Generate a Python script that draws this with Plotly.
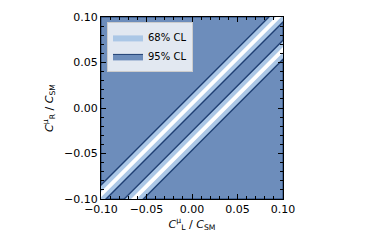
import plotly.graph_objects as go

# Data
axis_range = [-0.1, 0.1]
tick_vals = [-0.10, -0.05, 0.00, 0.05, 0.10]
tick_text = ["−0.10", "−0.05", "0.00", "0.05", "0.10"]
band_offsets = [0.005, -0.036]        # C_R - C_L at the band centres
band_halfwidth_95 = 0.0105            # half width (in C_R - C_L) of 95% boundary
band_halfwidth_68 = 0.0030            # half width of the inner white core
labels = ["68% CL", "95% CL"]

c_bg = "#6d8dbb"
c_light = "#abc7e6"
c_dark = "#1f3f73"

ext = [-0.15, 0.15]

fig = go.Figure()

# 95% CL region (background filling the axes)
fig.add_trace(go.Scatter(
    x=[axis_range[0], axis_range[1], axis_range[1], axis_range[0], axis_range[0]],
    y=[axis_range[0], axis_range[0], axis_range[1], axis_range[1], axis_range[0]],
    fill="toself", fillcolor=c_bg, mode="lines",
    line=dict(color=c_dark, width=1), name=labels[1], legendrank=2,
    hoverinfo="skip"))

for i, c in enumerate(band_offsets):
    h = band_halfwidth_95
    xs = [ext[0], ext[1], ext[1], ext[0], ext[0]]
    ys = [ext[0] + c + h, ext[1] + c + h, ext[1] + c - h, ext[0] + c - h, ext[0] + c + h]
    fig.add_trace(go.Scatter(
        x=xs, y=ys, fill="toself", fillcolor=c_light, mode="lines",
        line=dict(color=c_light, width=0), name=labels[0],
        showlegend=(i == 0), legendrank=1, hoverinfo="skip"))
    w = band_halfwidth_68
    ys2 = [ext[0] + c + w, ext[1] + c + w, ext[1] + c - w, ext[0] + c - w, ext[0] + c + w]
    fig.add_trace(go.Scatter(
        x=xs, y=ys2, fill="toself", fillcolor="white", mode="lines",
        line=dict(color="white", width=0), showlegend=False, hoverinfo="skip"))
    # dark contour lines along both edges of the band
    for s in (1, -1):
        fig.add_trace(go.Scatter(
            x=ext, y=[ext[0] + c + s * h, ext[1] + c + s * h], mode="lines",
            line=dict(color=c_dark, width=1.4), showlegend=False, hoverinfo="skip"))

axis_common = dict(
    range=axis_range, tickvals=tick_vals, ticktext=tick_text,
    ticks="inside", ticklen=5, tickwidth=1, tickcolor="black",
    showline=True, linecolor="black", linewidth=1.2, mirror="ticks",
    showgrid=False, zeroline=False, automargin=False,
    minor=dict(dtick=0.01, ticks="inside", ticklen=3, tickcolor="black", showgrid=False),
    tickfont=dict(family="DejaVu Sans", size=11, color="black"),
)

fig.update_xaxes(**axis_common,
                 title=dict(text="<i>C</i><sup>μ</sup><sub>L</sub> / <i>C</i><sub>SM</sub>",
                            font=dict(family="DejaVu Sans", size=11, color="black"),
                            standoff=4))
fig.update_yaxes(**axis_common,
                 title=dict(text="<i>C</i><sup>μ</sup><sub>R</sub> / <i>C</i><sub>SM</sub>",
                            font=dict(family="DejaVu Sans", size=11, color="black"),
                            standoff=8))

fig.update_layout(
    width=374, height=249,
    margin=dict(l=101, r=91, t=17, b=50, autoexpand=False),
    paper_bgcolor="white", plot_bgcolor="white",
    font=dict(family="DejaVu Sans", size=11, color="black"),
    legend=dict(x=0.033, y=0.973, xanchor="left", yanchor="top",
                bgcolor="rgba(255,255,255,0.8)", bordercolor="#cccccc", borderwidth=1,
                font=dict(family="DejaVu Sans", size=10, color="black"),
                itemwidth=30, tracegroupgap=0),
    showlegend=True,
)

fig.write_html("out.html", config={"displayModeBar": False},
               post_script="document.body.style.margin='0';document.body.style.overflow='hidden';")
